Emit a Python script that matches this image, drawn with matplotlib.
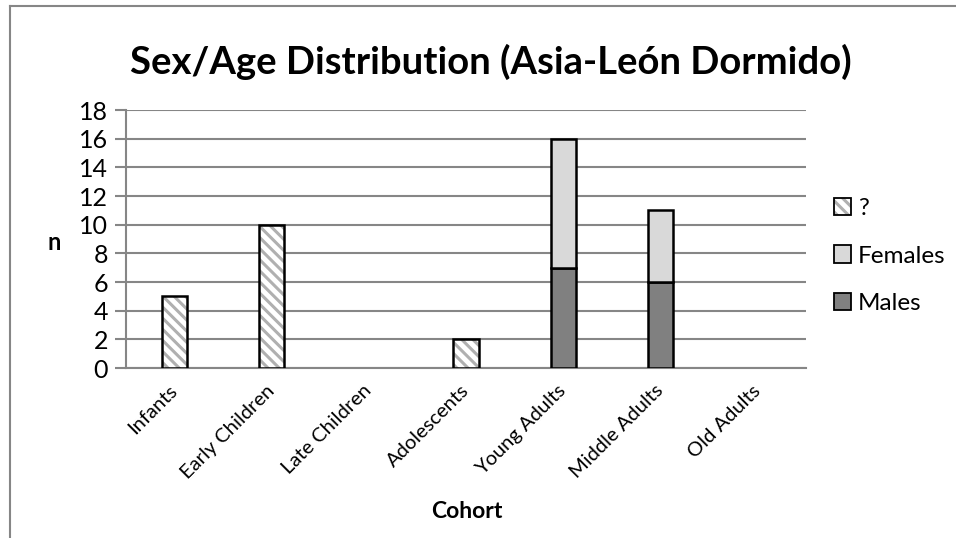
import matplotlib
matplotlib.use("Agg")
import matplotlib.pyplot as plt
import matplotlib.transforms as mtransforms
import numpy as np
from matplotlib.patches import Patch
from matplotlib.lines import Line2D
from matplotlib.legend_handler import HandlerTuple

plt.rcParams['font.family'] = ['Lato', 'DejaVu Sans']
plt.rcParams['hatch.linewidth'] = 2.2

cohorts = ["Infants", "Early Children", "Late Children", "Adolescents",
           "Young Adults", "Middle Adults", "Old Adults"]
males = [0, 0, 0, 0, 7, 6, 0]
females = [0, 0, 0, 0, 9, 5, 0]
unknown = [5, 10, 0, 2, 0, 0, 0]

grid_col = "#868686"
male_col = "#808080"
female_col = "#d9d9d9"
hatch_col = "#b0b0b0"
HATCH = "\\\\\\"

fig = plt.figure(figsize=(9.56, 5.38), dpi=100)
ax = fig.add_axes([126 / 956, 1 - 368 / 538, 680 / 956, 258 / 538])

x = np.arange(len(cohorts))
w = 0.26
m = np.array(males)
f = np.array(females)
u = np.array(unknown)

# stacked columns, only where there is something to draw
for i in x:
    if m[i]:
        ax.bar(i, m[i], w, color=male_col, edgecolor="black", linewidth=1.8, zorder=3)
    if f[i]:
        ax.bar(i, f[i], w, bottom=m[i], color=female_col, edgecolor="black", linewidth=1.8, zorder=3)
    if u[i]:
        # hatch takes the edge colour, so outline separately
        ax.bar(i, u[i], w, bottom=m[i] + f[i], color="white", edgecolor=hatch_col,
               hatch=HATCH, linewidth=0, zorder=3)
        ax.bar(i, u[i], w, bottom=m[i] + f[i], fill=False, edgecolor="black",
               linewidth=1.8, zorder=4)

ax.set_xlim(-0.5, len(cohorts) - 0.5)
ax.set_ylim(0, 18)
ax.set_yticks(range(0, 19, 2))
ax.yaxis.grid(True, color=grid_col, linewidth=1.5, zorder=0)
ax.set_axisbelow(True)
for s in ["top", "right"]:
    ax.spines[s].set_visible(False)
ax.spines["left"].set_color(grid_col)
ax.spines["left"].set_linewidth(1.5)
ax.spines["bottom"].set_color(grid_col)
ax.spines["bottom"].set_linewidth(1.5)
ax.tick_params(axis="y", length=8, width=1.5, color=grid_col, labelsize=18, pad=5)
ax.tick_params(axis="x", length=0, labelsize=14.5, pad=10)
ax.set_xticks(x)
ax.set_xticklabels(cohorts, rotation=45, ha="right", rotation_mode="anchor")
# nudge the slanted labels a little to the left
shift = mtransforms.ScaledTranslation(-6 / 100, 0, fig.dpi_scale_trans)
for lbl in ax.get_xticklabels():
    lbl.set_transform(lbl.get_transform() + shift)

fig.text(54 / 956, 1 - 243 / 538, "n", ha="center", va="center",
         fontsize=17, fontweight="bold")
fig.text(467 / 956, 1 - 511 / 538, "Cohort", ha="center", va="center",
         fontsize=16.5, fontweight="bold")
fig.text(0.513, 1 - 62 / 538, "Sex/Age Distribution (Asia-León Dormido)",
         ha="center", va="center", fontsize=27.5, fontweight="bold")

h_unknown = (Patch(facecolor="white", edgecolor=hatch_col, hatch=HATCH, linewidth=0),
             Patch(fill=False, edgecolor="black", linewidth=1.3))
h_female = Patch(facecolor=female_col, edgecolor="black", linewidth=1.3)
h_male = Patch(facecolor=male_col, edgecolor="black", linewidth=1.3)
fig.legend([h_unknown, h_female, h_male], ["?", "Females", "Males"],
           handler_map={tuple: HandlerTuple(ndivide=1, pad=0)},
           loc="center left", bbox_to_anchor=(812 / 956, 1 - 256 / 538),
           frameon=False, fontsize=17.5, handlelength=0.7, handleheight=0.7,
           handletextpad=0.3, labelspacing=1.1)

# outer chart frame (left and top edges)
fig.add_artist(Line2D([9.5 / 956, 9.5 / 956], [0, 1 - 5.5 / 538], color=grid_col, linewidth=1.5))
fig.add_artist(Line2D([9.5 / 956, 1], [1 - 5.5 / 538, 1 - 5.5 / 538], color=grid_col, linewidth=1.5))

fig.savefig("out.png", dpi=100)
